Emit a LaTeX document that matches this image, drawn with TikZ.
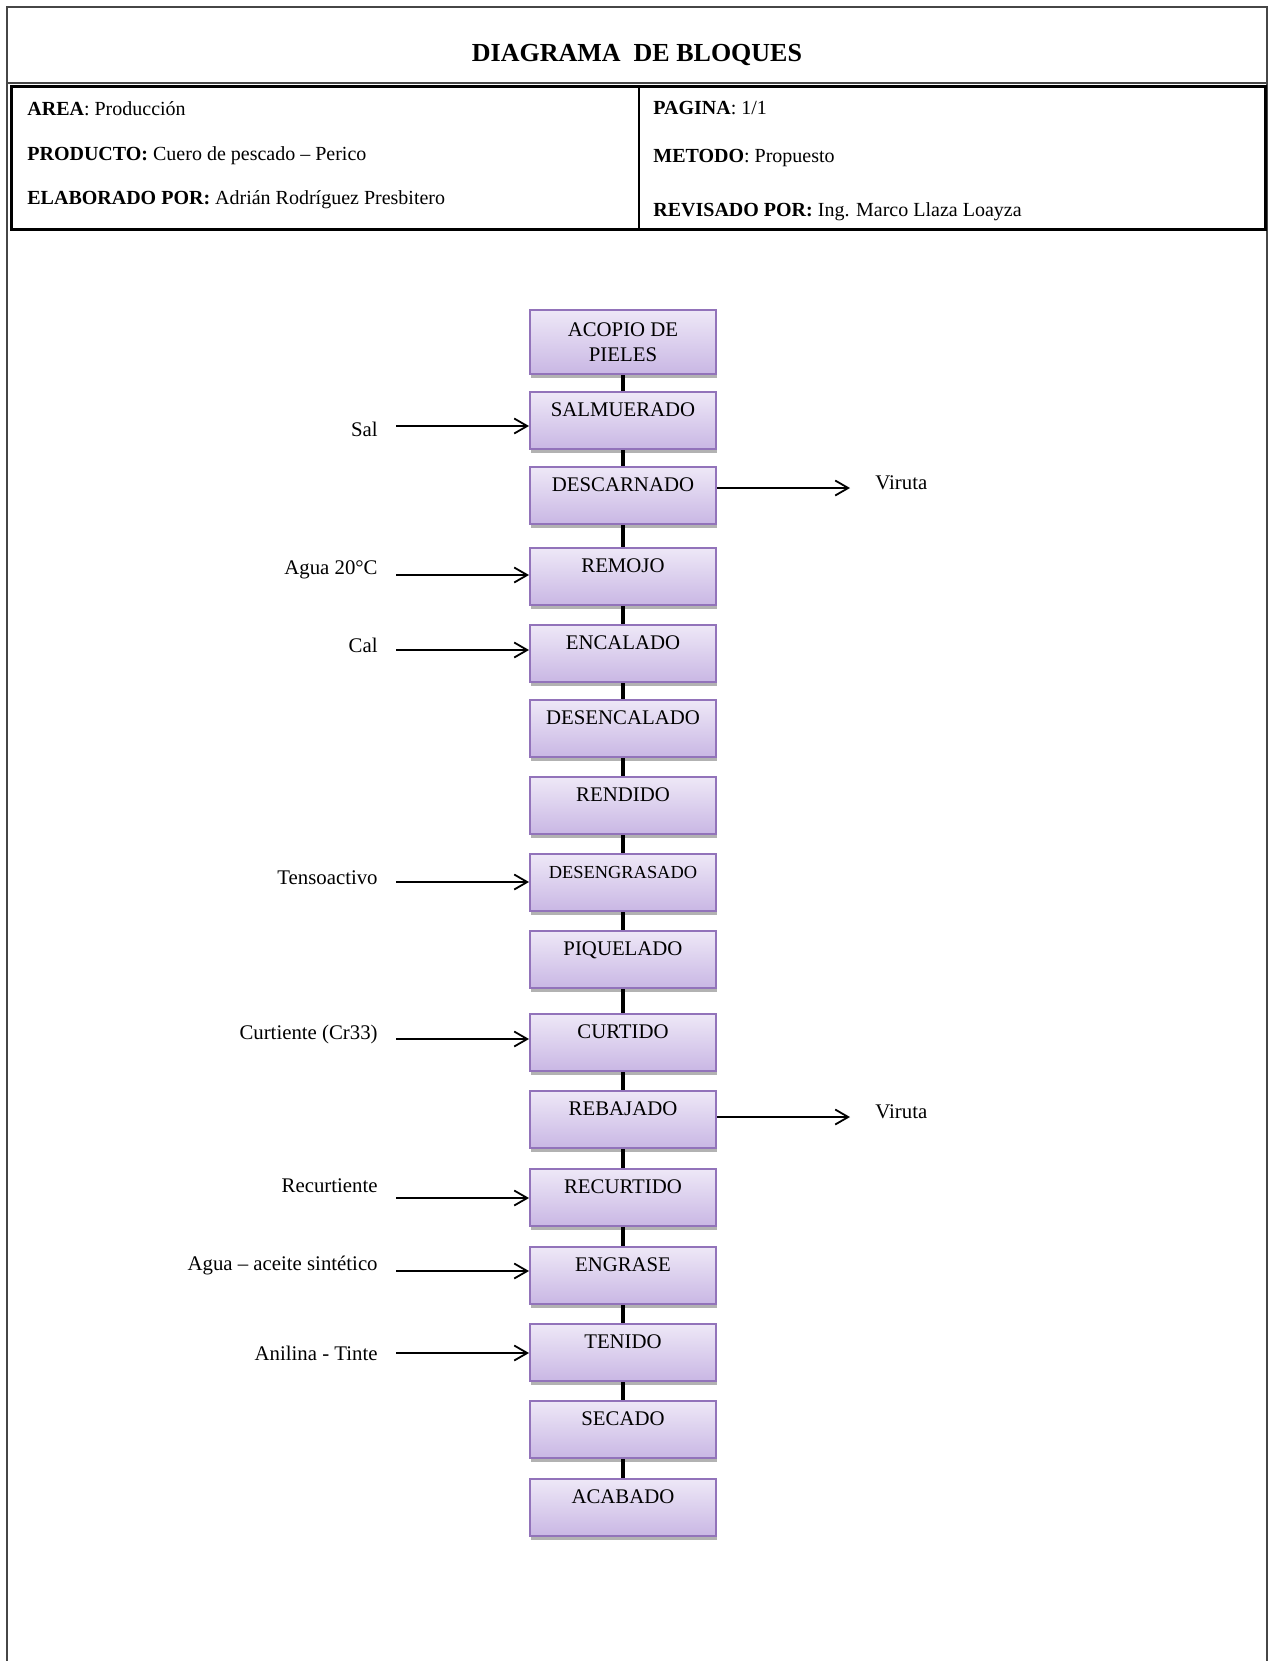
\documentclass[tikz,border=0pt]{standalone}
\usepackage{fontspec}
\setmainfont{Liberation Serif}
\usetikzlibrary{arrows.meta,shadows}
\definecolor{boxtop}{RGB}{238,232,247}
\definecolor{boxbot}{RGB}{201,183,228}
\definecolor{boxborder}{RGB}{146,115,186}
\definecolor{framegray}{RGB}{70,70,70}
\newcommand{\fsz}{\fontsize{10.4}{12.5}\selectfont}
\tikzset{
  procbox/.style={draw=boxborder, line width=1pt, top color=boxtop, bottom color=boxbot,
    minimum width=93pt, inner xsep=0pt, anchor=north, font=\fsz,
    drop shadow={shadow xshift=0.6pt, shadow yshift=-2pt, opacity=0.3, fill=black}},
  onebox/.style={procbox, inner ysep=0pt, text height=12pt, text depth=16.5pt},
  twobox/.style={procbox, align=center, minimum height=32pt, inner ysep=0pt},
  lbl/.style={font=\fsz, inner sep=0pt},
  hdr/.style={font=\fontsize{10}{12}\selectfont, inner sep=0pt, anchor=base west},
  conn/.style={line width=1.8pt, black},
  flow/.style={line width=0.9pt, black, -{Straight Barb[length=6.5pt,width=7.5pt]}}
}
\begin{document}
\begin{tikzpicture}[x=0.5pt,y=-0.5pt]
\useasboundingbox (0,0) rectangle (1271,1661);
% outer frame
\draw[framegray, line width=1pt] (7,1670) -- (7,7) -- (1267,7) -- (1267,1670);
\draw[framegray, line width=0.7pt] (7,83) -- (1267,83);
\node[font=\bfseries\fontsize{13}{15}\selectfont, inner sep=0pt, anchor=base] (title) at (637,61) {DIAGRAMA\ \ DE BLOQUES};
% header box
\draw[black, line width=1.5pt] (11,86) rectangle (1265,229);
\draw[black, line width=1.2pt] (639,86) -- (639,229);
\node[hdr] (area) at (27,115) {\textbf{AREA}: Producción};
\node[hdr] (prod) at (27,160) {\textbf{PRODUCTO:} Cuero de pescado – Perico};
\node[hdr] (elab) at (27,204) {\textbf{ELABORADO POR:} Adrián Rodríguez Presbitero};
\node[hdr] (pag) at (653,114) {\textbf{PAGINA}: 1/1};
\node[hdr] (met) at (653,162) {\textbf{METODO}: Propuesto};
\node[hdr] (rev) at (653,216) {\textbf{REVISADO POR:} Ing. Marco Llaza Loayza};
% process boxes
\node[twobox] (b1) at (623,309) {ACOPIO DE\\PIELES};
\node[onebox] (b2) at (623,391) {SALMUERADO};
\node[onebox] (b3) at (623,466) {DESCARNADO};
\node[onebox] (b4) at (623,547) {REMOJO};
\node[onebox] (b5) at (623,624) {ENCALADO};
\node[onebox] (b6) at (623,699) {DESENCALADO};
\node[onebox] (b7) at (623,776) {RENDIDO};
\node[onebox, font=\fontsize{9.2}{11}\selectfont] (b8) at (623,853) {DESENGRASADO};
\node[onebox] (b9) at (623,930) {PIQUELADO};
\node[onebox] (b10) at (623,1013) {CURTIDO};
\node[onebox] (b11) at (623,1090) {REBAJADO};
\node[onebox] (b12) at (623,1168) {RECURTIDO};
\node[onebox] (b13) at (623,1246) {ENGRASE};
\node[onebox] (b14) at (623,1323) {TENIDO};
\node[onebox] (b15) at (623,1400) {SECADO};
\node[onebox] (b16) at (623,1478) {ACABADO};
% vertical connectors
\foreach \a/\b in {b1/b2,b2/b3,b3/b4,b4/b5,b5/b6,b6/b7,b7/b8,b8/b9,b9/b10,b10/b11,b11/b12,b12/b13,b13/b14,b14/b15,b15/b16}
  \draw[conn] (\a.south) -- (\b.north);
% input labels and arrows
\foreach \nm/\txt/\ly/\ay/\bx in {
  sal/Sal/436/426/b2,
  agua/Agua 20°C/574/575/b4,
  cal/Cal/652/650/b5,
  tens/Tensoactivo/884/882/b8,
  curt/Curtiente (Cr33)/1039/1039/b10,
  recu/Recurtiente/1192/1198/b12,
  aceite/Agua – aceite sintético/1270/1271/b13,
  anil/Anilina - Tinte/1360/1353/b14}{
  \node[lbl, anchor=base east] (l\nm) at (378,\ly) {\txt};
  \coordinate (s\nm) at (396,\ay);
  \draw[flow] (s\nm) -- (s\nm -| \bx.west);
}
% output arrows
\node[lbl, anchor=base west] (v1) at (875,489) {Viruta};
\coordinate (e1) at (850,488);
\draw[flow] (e1 -| b3.east) -- (e1);
\node[lbl, anchor=base west] (v2) at (875,1118) {Viruta};
\coordinate (e2) at (850,1117);
\draw[flow] (e2 -| b11.east) -- (e2);
\end{tikzpicture}
\end{document}
